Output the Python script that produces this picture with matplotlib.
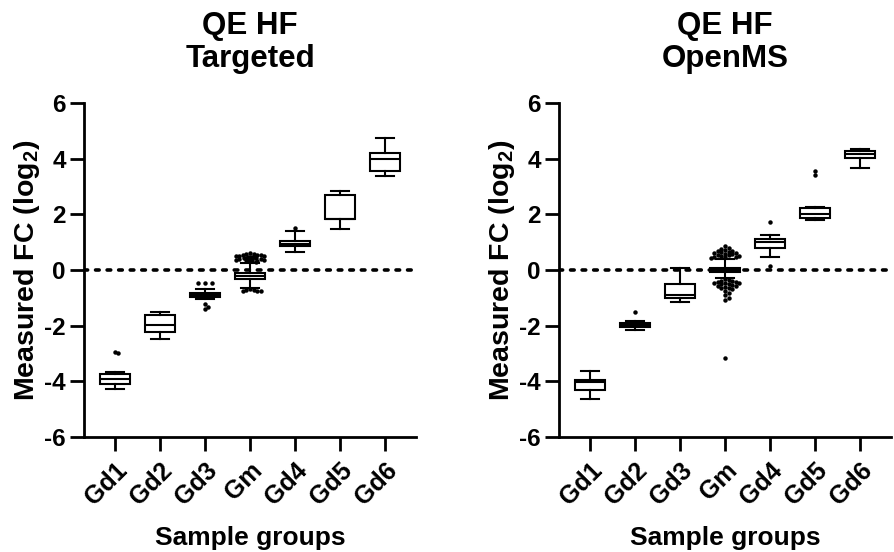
import matplotlib
matplotlib.use("Agg")
import matplotlib.pyplot as plt
import numpy as np

plt.rcParams["font.family"] = ["Liberation Sans", "DejaVu Sans"]
plt.rcParams["font.weight"] = "bold"
plt.rcParams["axes.unicode_minus"] = False
plt.rcParams["mathtext.fontset"] = "custom"
plt.rcParams["mathtext.bf"] = "Liberation Sans:bold"
plt.rcParams["mathtext.rm"] = "Liberation Sans:bold"

GROUPS = ["Gd1", "Gd2", "Gd3", "Gm", "Gd4", "Gd5", "Gd6"]
TITLES = ["QE HF\nTargeted", "QE HF\nOpenMS"]

# box stats per group: whisker low, q1, median, q3, whisker high
TARGETED_WLO = [-4.27, -2.47, -1.05, -0.66, 0.64, 1.49, 3.36]
TARGETED_Q1 = [-4.11, -2.24, -0.96, -0.33, 0.86, 1.83, 3.57]
TARGETED_MED = [-3.93, -1.98, -0.90, -0.20, 0.95, 1.85, 3.98]
TARGETED_Q3 = [-3.75, -1.62, -0.84, -0.12, 1.04, 2.71, 4.20]
TARGETED_WHI = [-3.67, -1.50, -0.68, 0.25, 1.40, 2.84, 4.76]
TARGETED_OUT = [
    [-3.00, -2.95],
    [],
    [-0.48, -0.48, -0.48, -1.22, -1.32, -1.41],
    [0.60, 0.58, 0.57, 0.55, 0.55, 0.53, 0.52, 0.50, 0.50, 0.48, 0.47, 0.46,
     0.45, 0.44, 0.43, 0.42, 0.41, 0.40, 0.40, 0.38, 0.37, 0.36, 0.35, 0.34,
     0.33, 0.32, 0.31, 0.30, -0.70, -0.72, -0.72, -0.74, -0.75, -0.77],
    [1.52],
    [],
    [],
]

OPENMS_WLO = [-4.63, -2.15, -1.14, -0.30, 0.48, 1.80, 3.68]
OPENMS_Q1 = [-4.32, -2.05, -1.00, -0.06, 0.80, 1.88, 4.04]
OPENMS_MED = [-4.03, -1.98, -0.90, 0.00, 1.00, 2.00, 4.16]
OPENMS_Q3 = [-3.96, -1.90, -0.49, 0.08, 1.10, 2.22, 4.28]
OPENMS_WHI = [-3.63, -1.85, 0.08, 0.40, 1.26, 2.27, 4.36]
OPENMS_OUT = [
    [],
    [-1.50],
    [],
    [0.86, 0.80, 0.77, 0.72, 0.70, 0.68, 0.66, 0.64, 0.62, 0.60, 0.58, 0.56,
     0.55, 0.53, 0.52, 0.50, 0.48, 0.46, 0.45, 0.44,
     -0.34, -0.36, -0.38, -0.40, -0.42, -0.44, -0.45, -0.47, -0.48, -0.50,
     -0.52, -0.54, -0.56, -0.58, -0.60, -0.63, -0.66, -0.70, -0.75, -0.82,
     -0.90, -1.00, -1.08, -3.15],
    [1.73, 0.14],
    [3.56, 3.41],
    [],
]

W, H, DPI = 894, 552, 100
LW = 1.5
BOX_W = 0.66


def swarm(ax, x0, vals, dot_px=3.6, max_px=15):
    """simple beeswarm offsets so dots don't sit on top of each other"""
    if not vals:
        return [], []
    t = ax.transData
    placed = []
    xs, ys = [], []
    for v in sorted(vals, reverse=True):
        px, py = t.transform((x0, v))
        cx = px
        k = 0
        while True:
            off = ((k + 1) // 2) * dot_px * (1 if k % 2 else -1) if k else 0
            if abs(off) > max_px:
                cx = px + (len(placed) % 7 - 3) * 2.0
                break
            cx = px + off
            if all((cx - a) ** 2 + (py - b) ** 2 >= dot_px ** 2 for a, b in placed):
                break
            k += 1
        placed.append((cx, py))
        dx, _ = t.inverted().transform((cx, py))
        xs.append(dx)
        ys.append(v)
    return xs, ys


def panel(ax, title, wlo, q1, med, q3, whi, outs):
    stats = []
    for i, g in enumerate(GROUPS):
        stats.append(dict(label=g, whislo=wlo[i], q1=q1[i], med=med[i],
                          q3=q3[i], whishi=whi[i], fliers=[]))
    pos = np.arange(len(GROUPS))
    ax.set_xlim(-0.68, 6.68)
    ax.set_ylim(-6, 6)
    ax.axhline(0, color="black", linestyle=(0, (1, 2.2)), lw=2.6,
               dash_capstyle="round", zorder=1)
    ax.bxp(stats, positions=pos, widths=BOX_W, showfliers=False, patch_artist=True,
           boxprops=dict(facecolor="white", edgecolor="black", lw=LW),
           medianprops=dict(color="black", lw=LW),
           whiskerprops=dict(color="black", lw=LW),
           capprops=dict(color="black", lw=LW), capwidths=0.4,
           manage_ticks=False, zorder=3)
    for i, vals in enumerate(outs):
        xs, ys = swarm(ax, pos[i], vals)
        ax.plot(xs, ys, "o", ms=3.2, color="black", mec="none", zorder=4)

    for s in ("top", "right"):
        ax.spines[s].set_visible(False)
    for s in ("left", "bottom"):
        ax.spines[s].set_linewidth(2.0)
    ax.set_yticks(np.arange(-6, 7, 2))
    ax.set_yticklabels([f"{v:d}" for v in np.arange(-6, 7, 2)])
    ax.set_xticks(pos)
    ax.set_xticklabels(GROUPS, rotation=45, ha="right", rotation_mode="anchor")
    ax.tick_params(axis="both", width=2.0, length=10, labelsize=17.5, pad=3)
    ax.tick_params(axis="x", labelsize=18, pad=5)
    ax.set_ylabel("Measured FC (log$_\\mathbf{2}$)", fontsize=20.5, fontweight="bold",
                  labelpad=2)
    ax.set_xlabel("Sample groups", fontsize=19, fontweight="bold", labelpad=12)
    ax.set_title(title, fontsize=22.5, fontweight="bold", pad=26, linespacing=1.12)


fig = plt.figure(figsize=(W / DPI, H / DPI), dpi=DPI)
axw = 332 / W
axh = (437 - 103) / H
bot = 1 - 437 / H
ax1 = fig.add_axes([84 / W, bot, axw, axh])
ax2 = fig.add_axes([559 / W, bot, axw, axh])

panel(ax1, TITLES[0], TARGETED_WLO, TARGETED_Q1, TARGETED_MED, TARGETED_Q3,
      TARGETED_WHI, TARGETED_OUT)
panel(ax2, TITLES[1], OPENMS_WLO, OPENMS_Q1, OPENMS_MED, OPENMS_Q3,
      OPENMS_WHI, OPENMS_OUT)

fig.savefig("out.png", dpi=DPI)
